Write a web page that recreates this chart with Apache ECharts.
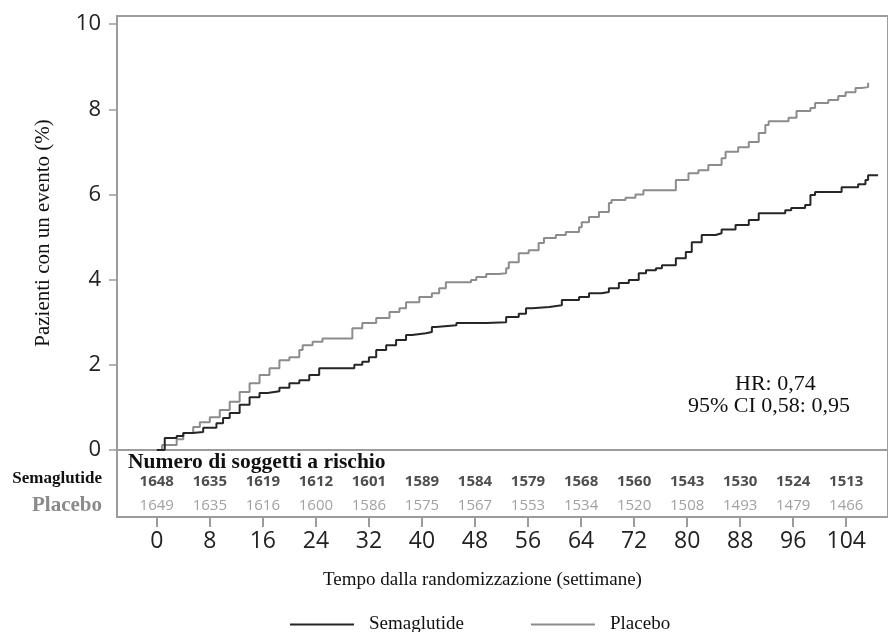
<!DOCTYPE html>
<html>
<head>
<meta charset="utf-8">
<script src="https://cdn.jsdelivr.net/npm/echarts@6/dist/echarts.min.js"></script>
<style>html,body{margin:0;padding:0;background:#fff}#c{width:888px;height:632px}</style>
</head>
<body>
<div id="c"></div>
<script>
// ---- data ----
const semaWeeks = [0,1.2,3,4,5.4,7,9,10,11,12.5,14,15.5,16.7,18.5,20,21.5,23,24.5,29.8,31,32,33.1,34.6,36.1,37.6,38.5,40.6,41.5,42.1,45.2,49.7,52.7,54.6,55.7,56.6,59.2,61.1,63.7,65.2,67.1,68.2,69.7,71.2,72.7,73.8,75.3,76.2,78.3,79.8,80.7,82.2,84.3,85.2,87.3,89.3,90.8,94.8,95.7,97.8,98.6,99.3,103.3,105.8,106.9,107.3,108.8];
const semaPct   = [0,0.28,0.33,0.40,0.42,0.52,0.63,0.75,0.87,1.06,1.24,1.34,1.38,1.46,1.57,1.64,1.76,1.92,2.00,2.07,2.18,2.35,2.46,2.58,2.70,2.74,2.77,2.89,2.93,2.98,3.00,3.12,3.20,3.33,3.36,3.40,3.52,3.59,3.68,3.71,3.80,3.92,3.99,4.15,4.22,4.27,4.34,4.50,4.65,4.88,5.05,5.09,5.18,5.28,5.40,5.56,5.63,5.68,5.75,5.99,6.06,6.17,6.24,6.34,6.45,6.45];
const placWeeks = [0,0.8,3,4,5.5,6.5,8,9.5,11,12.5,14,15.5,17,18.5,20,21.5,22,23.5,25,29.5,31,33.1,35.1,36.6,37.6,39.6,41.5,42.6,43.6,47.4,48.2,49.7,51.6,52.7,53.1,54.6,56.1,57.6,58.4,60.2,61.7,63.7,64.1,65.2,66.7,68.2,68.6,70.7,72.2,73.4,78.3,80.2,81.7,83.2,85.2,85.8,87.7,89.3,90.8,91.8,92.3,95.3,96.5,98.6,99.3,101.3,102.8,103.9,105.4,106.3,107.3];
const placPct   = [0,0.12,0.25,0.40,0.54,0.65,0.77,0.94,1.13,1.36,1.57,1.76,1.92,2.11,2.18,2.35,2.46,2.54,2.62,2.86,2.98,3.10,3.24,3.33,3.47,3.59,3.68,3.80,3.94,3.99,4.06,4.13,4.15,4.27,4.41,4.62,4.69,4.86,4.98,5.05,5.12,5.23,5.35,5.47,5.59,5.80,5.87,5.92,6.00,6.10,6.34,6.50,6.57,6.69,6.85,7.00,7.11,7.23,7.44,7.63,7.72,7.80,7.96,8.03,8.15,8.22,8.31,8.40,8.50,8.52,8.62];
const riskWeeks = [0,8,16,24,32,40,48,56,64,72,80,88,96,104];
const riskSema  = [1648,1635,1619,1612,1601,1589,1584,1579,1568,1560,1543,1530,1524,1513];
const riskPlac  = [1649,1635,1616,1600,1586,1575,1567,1553,1534,1520,1508,1493,1479,1466];
const yTicks = [0,2,4,6,8,10];
const seriesNames = ['Semaglutide','Placebo'];

// ---- chart ----
const SERIF = '"Liberation Serif","Times New Roman",serif';
const SANS = '"Open Sans","Noto Sans",sans-serif';
const FRAME = '#9c9c9c';
const chart = echarts.init(document.getElementById('c'), null, {renderer:'canvas'});
const zip = (a,b) => a.map((v,i)=>[v,b[i]]);

chart.setOption({
  animation:false,
  grid:[
    {left:117, top:16, right:-3, height:434, show:true, borderColor:FRAME, borderWidth:2, containLabel:false},
    {left:117, top:450, right:-3, height:67, show:true, borderColor:FRAME, borderWidth:2, containLabel:false}
  ],
  xAxis:[
    {gridIndex:0, type:'value', min:-6, max:110.3, axisLine:{show:false, onZero:false}, axisTick:{show:false}, axisLabel:{show:false}, splitLine:{show:false}},
    {gridIndex:1, type:'value', min:-6, max:110.3, position:'bottom',
     axisLine:{show:false, onZero:false},
     axisTick:{show:true, customValues:riskWeeks, length:10, lineStyle:{color:FRAME, width:2}},
     axisLabel:{show:true, customValues:riskWeeks, margin:13, fontSize:23, color:'#222', fontFamily:SANS},
     splitLine:{show:false}}
  ],
  yAxis:[
    {gridIndex:0, type:'value', min:0, max:10.19, position:'left',
     axisLine:{show:false, onZero:false},
     axisTick:{show:true, customValues:yTicks, length:8, lineStyle:{color:FRAME, width:1.5}},
     axisLabel:{show:true, customValues:yTicks, margin:16, fontSize:22, color:'#222', fontFamily:SANS},
     splitLine:{show:false},
     name:'Pazienti con un evento (%)', nameLocation:'middle', nameRotate:90, nameGap:63,
     nameTextStyle:{fontFamily:SERIF, fontSize:21, color:'#111'}},
    {gridIndex:1, type:'value', min:0, max:1, show:false, axisLine:{onZero:false}}
  ],
  legend:{
    data:seriesNames, left:285, top:610, icon:'rect', itemWidth:64, itemHeight:2, itemGap:67,
    textStyle:{fontFamily:SERIF, fontSize:19, color:'#111', padding:[0,0,0,10]}
  },
  graphic:[
    {type:'text', left:128, top:451, style:{text:'Numero di soggetti a rischio', font:'bold 21.5px '+SERIF, fill:'#111'}},
    {type:'text', right:786, top:470, style:{text:'Semaglutide', font:'bold 17px '+SERIF, fill:'#111', textAlign:'right'}},
    {type:'text', right:786, top:495, style:{text:'Placebo', font:'bold 21px '+SERIF, fill:'#8a8a8a', textAlign:'right'}},
    {type:'text', left:323, top:571, style:{text:'Tempo dalla randomizzazione (settimane)', font:'19px '+SERIF, fill:'#111'}},
    {type:'text', left:735, top:373, style:{text:'HR: 0,74', font:'22px '+SERIF, fill:'#111'}},
    {type:'text', left:688, top:395, style:{text:'95% CI 0,58: 0,95', font:'22px '+SERIF, fill:'#111'}}
  ],
  series:[
    {name:seriesNames[0], type:'line', xAxisIndex:0, yAxisIndex:0, step:'end', symbol:'none',
     data:zip(semaWeeks, semaPct), lineStyle:{color:'#262626', width:2}, itemStyle:{color:'#262626'}, z:3},
    {name:seriesNames[1], type:'line', xAxisIndex:0, yAxisIndex:0, step:'end', symbol:'none',
     data:zip(placWeeks, placPct), lineStyle:{color:'#8c8c8c', width:2}, itemStyle:{color:'#8c8c8c'}, z:2},
    {type:'scatter', xAxisIndex:1, yAxisIndex:1, symbolSize:1, itemStyle:{color:'rgba(0,0,0,0)'},
     data:riskWeeks.map((w,i)=>[w, 0.52, riskSema[i]]),
     label:{show:true, position:'inside', formatter:p=>String(p.value[2]), fontFamily:SANS, fontSize:15, fontWeight:'bold', color:'#222'}},
    {type:'scatter', xAxisIndex:1, yAxisIndex:1, symbolSize:1, itemStyle:{color:'rgba(0,0,0,0)'},
     data:riskWeeks.map((w,i)=>[w, 0.17, riskPlac[i]]),
     label:{show:true, position:'inside', formatter:p=>String(p.value[2]), fontFamily:SANS, fontSize:15, fontWeight:500, color:'#8a8a8a'}}
  ]
});
</script>
</body>
</html>
